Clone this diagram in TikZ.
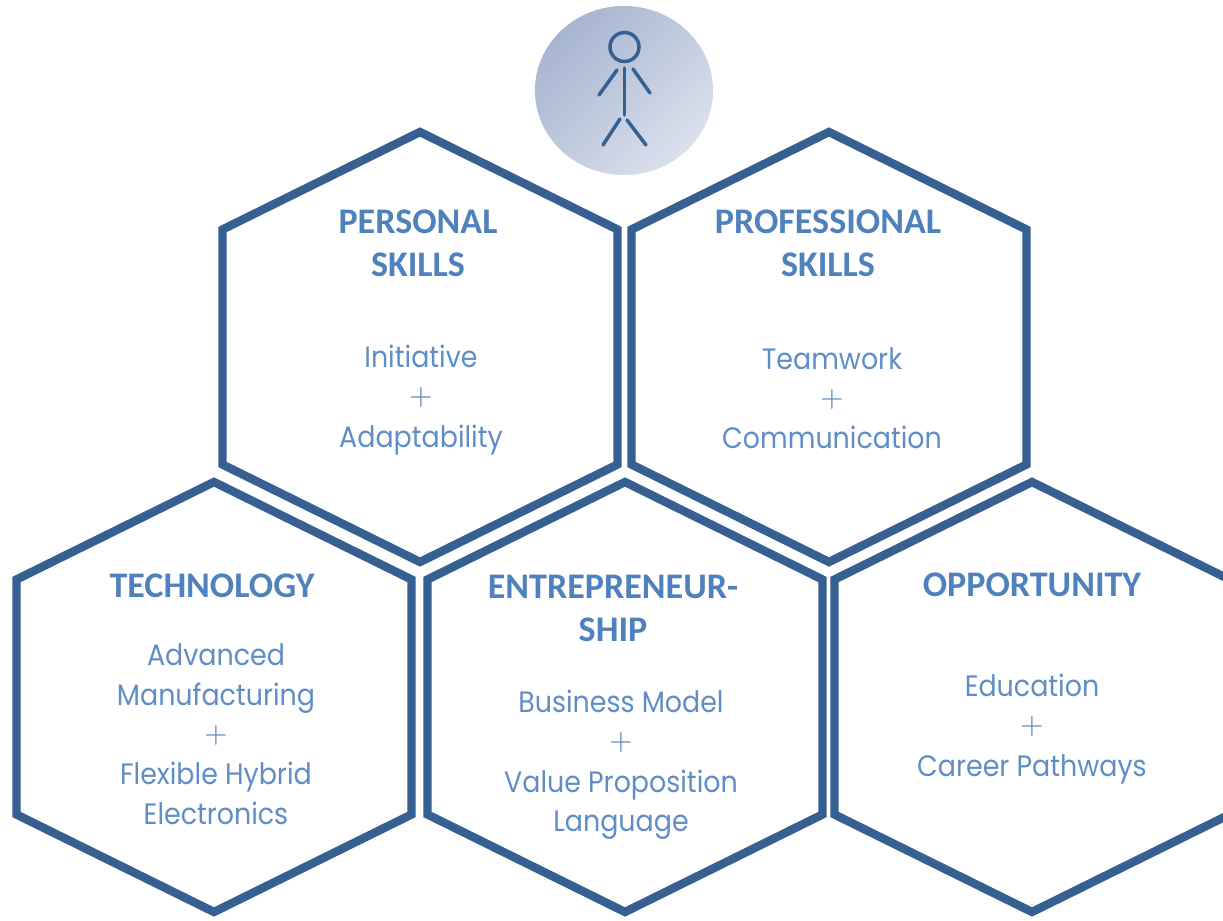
\documentclass[tikz,border=0pt]{standalone}
\usepackage{fontspec}
\usetikzlibrary{calc, shapes.geometric}
\setmainfont{Carlito}
\newfontfamily\skillfont{Poppins}[FakeStretch=0.91]
\definecolor{hexblue}{HTML}{376092}
\definecolor{headblue}{HTML}{4F81BD}
\definecolor{bodyblue}{HTML}{5F8DC4}
\definecolor{discdark}{HTML}{A6B5D1}
\definecolor{disclight}{HTML}{DBE0EC}
\tikzset{
  hexcell/.style={draw=hexblue, line width=2.4pt, miter limit=10},
  heading/.style={text=headblue, align=center, font=\bfseries\fontsize{10.25pt}{12.2pt}\selectfont},
  skills/.style={text=bodyblue, align=center, font=\skillfont\fontsize{8.4pt}{11.3pt}\selectfont},
  stick/.style={draw=hexblue, line width=1pt, line cap=round}
}
\newcommand{\hexcell}[3]{%
  \coordinate (#1) at (#2,#3);
  \draw[hexcell] ($(#1)+(0,-215)$) -- ($(#1)+(197.5,-117.5)$) -- ($(#1)+(197.5,117.5)$)
    -- ($(#1)+(0,215)$) -- ($(#1)+(-197.5,117.5)$) -- ($(#1)+(-197.5,-117.5)$) -- cycle;
}
\newcommand{\plusline}{\raisebox{0.7pt}{$+$}}
\begin{document}
\begin{tikzpicture}[x=0.01cm, y=-0.01cm]
  \clip (0,0) rectangle (1223,921);

  % the person
  \node[ellipse, minimum width=1.78cm, minimum height=1.69cm, inner sep=0, left color=discdark, right color=disclight, shading angle=45] (disc) at (624,90.5) {};
  \node[circle, draw=hexblue, line width=1pt, minimum size=0.29cm, inner sep=0] (head) at (624.5,47) {};
  \coordinate (neck) at (624.5,68);
  \coordinate (hip) at (624.5,115);
  \draw[stick] (neck) -- (hip);
  \draw[stick] (617,70) -- (599,95);
  \draw[stick] (633,69) -- (650,93);
  \draw[stick] (620,119) -- (603,145);
  \draw[stick] (627,120) -- (646,145);

  % the five cells
  \hexcell{personal}{420}{347}
  \hexcell{professional}{829}{347}
  \hexcell{technology}{214}{697}
  \hexcell{entrepreneur}{625}{697}
  \hexcell{opportunity}{1032}{697}

  \node[heading] (personalHead) at (418,243) {PERSONAL\\SKILLS};
  \node[heading] (professionalHead) at (828,243) {PROFESSIONAL\\SKILLS};
  \node[heading] (technologyHead) at (212,586) {TECHNOLOGY};
  \node[heading] (entrepreneurHead) at (613,608) {ENTREPRENEUR-\\SHIP};
  \node[heading] (opportunityHead) at (1032,584.5) {OPPORTUNITY};

  \node[skills] (personalText) at (421,400) {Initiative\\\plusline\\Adaptability};
  \node[skills] (professionalText) at (832,398) {Teamwork\\\plusline\\Communication};
  \node[skills] (technologyText) at (216,734) {Advanced\\Manufacturing\\\plusline\\Flexible Hybrid\\Electronics};
  \node[skills] (entrepreneurText) at (621,765) {Business Model\\\plusline\\Value Proposition\\Language};
  \node[skills] (opportunityText) at (1032,729) {Education\\\plusline\\Career Pathways};
\end{tikzpicture}
\end{document}
